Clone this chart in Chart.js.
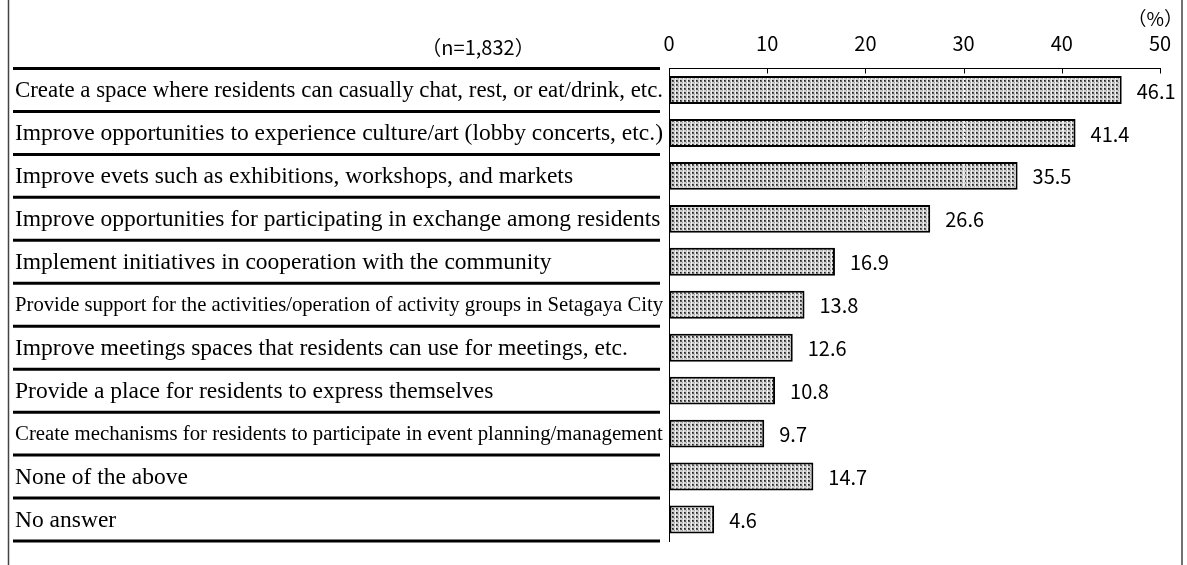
<!DOCTYPE html>
<html>
<head>
<meta charset="utf-8">
<script src="https://cdn.jsdelivr.net/npm/chart.js@4.4.1/dist/chart.umd.min.js"></script>
<style>
html,body{margin:0;padding:0;background:#fff;}
canvas{display:block;}
</style>
</head>
<body>
<canvas id="c" width="1187" height="565"></canvas>
<script>
const categories = [
  "Create a space where residents can casually chat, rest, or eat/drink, etc.",
  "Improve opportunities to experience culture/art (lobby concerts, etc.)",
  "Improve evets such as exhibitions, workshops, and markets",
  "Improve opportunities for participating in exchange among residents",
  "Implement initiatives in cooperation with the community",
  "Provide support for the activities/operation of activity groups in Setagaya City",
  "Improve meetings spaces that residents can use for meetings, etc.",
  "Provide a place for residents to express themselves",
  "Create mechanisms for residents to participate in event planning/management",
  "None of the above",
  "No answer"
];
const values = [46.1, 41.4, 35.5, 26.6, 16.9, 13.8, 12.6, 10.8, 9.7, 14.7, 4.6];
const xTickValues = [0, 10, 20, 30, 40, 50];
const sampleNote = "（n=1,832）";
const unitNote = "（%）";

const GOTHIC = '"Noto Sans CJK JP", "DejaVu Sans", sans-serif';
const SERIF = '"Liberation Serif", "DejaVu Serif", serif';

function makePattern() {
  const p = document.createElement('canvas');
  p.width = 4; p.height = 4;
  const g = p.getContext('2d');
  g.fillStyle = '#cfcfcf'; g.fillRect(0, 0, 4, 4);
  g.fillStyle = '#eeeeee'; g.fillRect(3, 0, 1, 4);
  g.fillStyle = '#5a5a5a'; g.fillRect(0, 0, 2, 2);
  g.fillStyle = '#1e1e1e'; g.fillRect(0, 0, 1, 1);
  g.fillStyle = '#a0a0a0'; g.fillRect(2, 2, 1, 1);
  return document.getElementById('c').getContext('2d').createPattern(p, 'repeat');
}

const decor = {
  id: 'decor',
  beforeDraw(chart) {
    const ctx = chart.ctx;
    ctx.save();
    ctx.fillStyle = '#fff';
    ctx.fillRect(0, 0, chart.width, chart.height);
    ctx.restore();
  },
  afterDatasetsDraw(chart) {
    const ctx = chart.ctx;
    const xs = chart.scales.x, ys = chart.scales.y;
    const area = chart.chartArea;
    const meta = chart.getDatasetMeta(0);
    ctx.save();
    // faint white gridline traces across bars
    meta.data.forEach((bar, i) => {
      const h = bar.height;
      xTickValues.forEach(v => {
        if (v > 0 && v < values[i]) {
          const px = Math.round(xs.getPixelForValue(v)) + 0.5;
          ctx.strokeStyle = 'rgba(255,255,255,0.9)';
          ctx.lineWidth = 1;
          ctx.setLineDash([2, 2]);
          ctx.beginPath();
          ctx.moveTo(px, bar.y - h / 2 + 2);
          ctx.lineTo(px, bar.y + h / 2 - 2);
          ctx.stroke();
        }
      });
    });
    ctx.setLineDash([]);
    // value labels
    ctx.fillStyle = '#000';
    ctx.font = '20px ' + GOTHIC;
    ctx.textAlign = 'left';
    ctx.textBaseline = 'middle';
    meta.data.forEach((bar, i) => {
      ctx.fillText(values[i].toFixed(1), bar.x + 15, bar.y + 1);
    });
    // inward tick marks on top axis
    ctx.strokeStyle = '#000';
    ctx.lineWidth = 1;
    xTickValues.forEach(v => {
      const px = Math.round(xs.getPixelForValue(v)) + 0.5;
      ctx.beginPath();
      ctx.moveTo(px, area.top);
      ctx.lineTo(px, area.top + 5);
      ctx.stroke();
    });
    // category labels & separators
    const step = ys.getPixelForValue(1) - ys.getPixelForValue(0);
    const maxW = 648;
    ctx.textBaseline = 'middle';
    categories.forEach((c, i) => {
      const cy = ys.getPixelForValue(i);
      let size = 23.5;
      ctx.font = size + 'px ' + SERIF;
      let w = ctx.measureText(c).width;
      if (w > maxW) { size = size * maxW / w; ctx.font = size.toFixed(2) + 'px ' + SERIF; }
      ctx.fillText(c, 15, cy + 1);
    });
    ctx.lineWidth = 3;
    for (let i = 0; i <= categories.length; i++) {
      const y = ys.getPixelForValue(0) - step / 2 + i * step;
      ctx.beginPath();
      ctx.moveTo(13, y);
      ctx.lineTo(660, y);
      ctx.stroke();
    }
    // notes
    ctx.font = '20px ' + GOTHIC;
    ctx.textAlign = 'center';
    ctx.fillText(sampleNote, 478, 47);
    ctx.font = '19px ' + GOTHIC;
    ctx.textAlign = 'right';
    ctx.fillText(unitNote, 1183, 19);
    // outer frame
    ctx.strokeStyle = '#444';
    ctx.lineWidth = 1.5;
    ctx.strokeRect(8.5, -5, 1173.5, 580);
    ctx.restore();
  }
};

const ctx = document.getElementById('c').getContext('2d');
new Chart(ctx, {
  type: 'bar',
  data: {
    labels: categories,
    datasets: [{
      data: values,
      backgroundColor: makePattern(),
      borderColor: '#000',
      borderWidth: 2,
      borderSkipped: false,
      barPercentage: 0.65,
      categoryPercentage: 1.0
    }]
  },
  options: {
    indexAxis: 'y',
    responsive: false,
    animation: false,
    devicePixelRatio: 1,
    layout: { padding: { left: 669, right: 27, top: 0, bottom: 24 } },
    plugins: { legend: { display: false }, tooltip: { enabled: false } },
    scales: {
      x: {
        position: 'top',
        min: 0, max: 50,
        afterFit(s) { s.height = 68.5; },
        afterBuildTicks(s) { s.ticks = xTickValues.map(v => ({ value: v })); },
        ticks: { color: '#000', font: { family: GOTHIC, size: 20 }, padding: 13, maxRotation: 0 },
        grid: { drawOnChartArea: false, drawTicks: false },
        border: { display: true, color: '#000', width: 1 }
      },
      y: {
        afterFit(s) { s.width = 0; },
        ticks: { display: false },
        grid: { display: false, drawTicks: false },
        border: { display: true, color: '#000', width: 1 }
      }
    }
  },
  plugins: [decor]
});
</script>
</body>
</html>
